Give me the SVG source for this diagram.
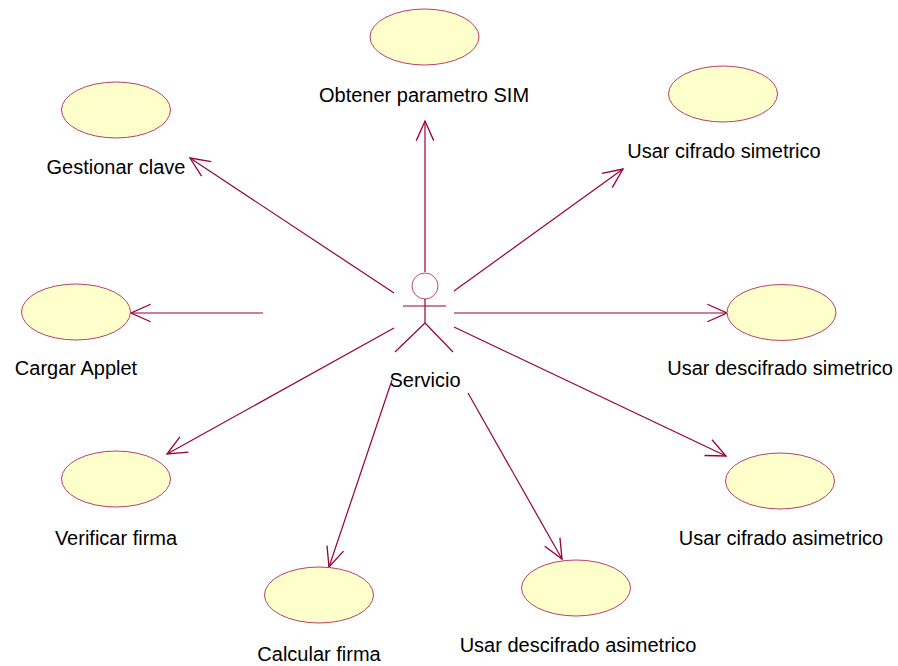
<svg xmlns="http://www.w3.org/2000/svg" width="898" height="666" viewBox="0 0 898 666">
  <style>
    .uc { fill: #FFFFCC; stroke: #B8406A; stroke-width: 1; }
    .lbl { font-family: "Liberation Sans", Arial, sans-serif; font-size: 20px; fill: #000; text-anchor: middle; }
    .assoc { stroke: #990033; stroke-width: 1.2; fill: none; marker-end: url(#open); }
    .actor { stroke: #990033; stroke-width: 1.2; fill: none; }
  </style>
  <defs>
    <marker id="open" markerUnits="userSpaceOnUse" markerWidth="24" markerHeight="24" viewBox="-20 -10 22 20" refX="0" refY="0" orient="auto" overflow="visible">
      <path d="M-18,-8 L0,0 L-18,8" fill="none" stroke="#990033" stroke-width="1.2"/>
    </marker>
  </defs>
  <rect width="898" height="666" fill="#FFFFFF"/>

  <!-- associations from the actor to each use case -->
  <g id="connectors">
    <line class="assoc" x1="425" y1="272" x2="425" y2="121"/>
    <line class="assoc" x1="394" y1="293" x2="190" y2="158"/>
    <line class="assoc" x1="454" y1="291" x2="623" y2="169"/>
    <line class="assoc" x1="263" y1="313" x2="131" y2="313"/>
    <line class="assoc" x1="454" y1="313" x2="727" y2="313"/>
    <line class="assoc" x1="394" y1="328" x2="167" y2="454"/>
    <line class="assoc" x1="454" y1="327" x2="726" y2="456"/>
    <line class="assoc" x1="392" y1="380" x2="329" y2="567"/>
    <line class="assoc" x1="468" y1="393" x2="562" y2="559"/>
  </g>

  <g id="actor-servicio">
    <circle cx="425" cy="286" r="13" fill="none" stroke="#C04A78" stroke-width="1"/>
    <line class="actor" x1="425" y1="299" x2="425" y2="323"/>
    <line class="actor" x1="403" y1="306" x2="446" y2="306"/>
    <line class="actor" x1="425" y1="323" x2="395" y2="352"/>
    <line class="actor" x1="425" y1="323" x2="453" y2="352"/>
    <text class="lbl" x="425" y="387">Servicio</text>
  </g>

  <g id="uc-obtener">
    <ellipse class="uc" cx="424.5" cy="37" rx="54.5" ry="28"/>
    <text class="lbl" x="424" y="102">Obtener parametro SIM</text>
  </g>
  <g id="uc-gestionar">
    <ellipse class="uc" cx="116" cy="110" rx="54.5" ry="28"/>
    <text class="lbl" x="116" y="174">Gestionar clave</text>
  </g>
  <g id="uc-cifrado-simetrico">
    <ellipse class="uc" cx="723" cy="94" rx="54.5" ry="28"/>
    <text class="lbl" x="724" y="158">Usar cifrado simetrico</text>
  </g>
  <g id="uc-cargar">
    <ellipse class="uc" cx="76" cy="312" rx="54.5" ry="28"/>
    <text class="lbl" x="76" y="375">Cargar Applet</text>
  </g>
  <g id="uc-descifrado-simetrico">
    <ellipse class="uc" cx="781.5" cy="312.5" rx="54.5" ry="28"/>
    <text class="lbl" x="780" y="375">Usar descifrado simetrico</text>
  </g>
  <g id="uc-verificar">
    <ellipse class="uc" cx="116" cy="479" rx="54.5" ry="28"/>
    <text class="lbl" x="116" y="545">Verificar firma</text>
  </g>
  <g id="uc-cifrado-asimetrico">
    <ellipse class="uc" cx="780" cy="481" rx="54.5" ry="28"/>
    <text class="lbl" x="781" y="545">Usar cifrado asimetrico</text>
  </g>
  <g id="uc-calcular">
    <ellipse class="uc" cx="319" cy="595" rx="54.5" ry="28"/>
    <text class="lbl" x="319" y="661">Calcular firma</text>
  </g>
  <g id="uc-descifrado-asimetrico">
    <ellipse class="uc" cx="576" cy="588" rx="54.5" ry="28"/>
    <text class="lbl" x="578" y="652">Usar descifrado asimetrico</text>
  </g>
</svg>
